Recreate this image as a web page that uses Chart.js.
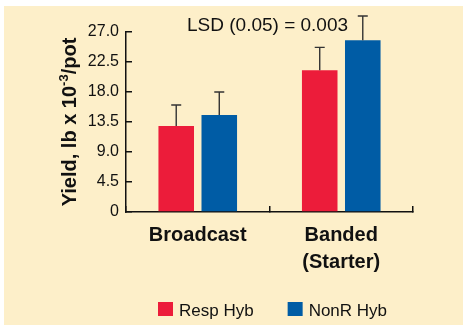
<!DOCTYPE html>
<html>
<head>
<meta charset="utf-8">
<script src="https://cdn.jsdelivr.net/npm/chart.js@4.4.1/dist/chart.umd.min.js"></script>
<style>
  html, body { margin: 0; padding: 0; background: #fff; }
  #wrap { width: 463px; height: 325px; }
</style>
</head>
<body>
<div id="wrap"><canvas id="chart" width="463" height="325"></canvas></div>
<script>
// data
const categories = ["Broadcast", ["Banded", "(Starter)"]];
const seriesNames = ["Resp Hyb", "NonR Hyb"];
const respValues = [12.9, 21.25];
const nonrValues = [14.55, 25.75];
// upper error bar lengths
const respErrors = [3.15, 3.45];
const nonrErrors = [3.45, 3.65];
const yTicks = [0, 4.5, 9, 13.5, 18, 22.5, 27];
const lsdLabel = "LSD (0.05) = 0.003";

const FONT = '"Liberation Sans", Arial, sans-serif';
const cream = '#fdefc9';
const red = '#ec1c3a';
const blue = '#005ca5';

//fills the white frame and cream panel
const bgPlugin = {
  id: 'bg',
  beforeDraw(chart) {
    const ctx = chart.ctx;
    ctx.save();
    ctx.fillStyle = '#fff';
    ctx.fillRect(0, 0, chart.width, chart.height);
    ctx.fillStyle = cream;
    ctx.fillRect(4, 6, chart.width - 4, chart.height - 6);
    ctx.restore();
  }
};

//upper error whiskers, one per bar
const errorBars = {
  id: 'errorBars',
  afterDatasetsDraw(chart) {
    const ctx = chart.ctx;
    const yScale = chart.scales.y;
    ctx.save();
    ctx.strokeStyle = '#333';
    ctx.lineWidth = 1.4;
    chart.data.datasets.forEach((ds, i) => {
      const meta = chart.getDatasetMeta(i);
      meta.data.forEach((bar, j) => {
        const top = yScale.getPixelForValue(ds.data[j] + ds.errors[j]);
        ctx.beginPath();
        ctx.moveTo(bar.x, bar.y);
        ctx.lineTo(bar.x, top);
        ctx.moveTo(bar.x - 5, top);
        ctx.lineTo(bar.x + 5, top);
        ctx.stroke();
      });
    });
    ctx.restore();
  }
};

//rotated y title with superscript, LSD note and the legend row
const texts = {
  id: 'texts',
  afterDraw(chart) {
    const ctx = chart.ctx;
    ctx.save();
    ctx.fillStyle = '#111';
    ctx.textBaseline = 'alphabetic';
    ctx.font = '19px ' + FONT;
    ctx.textAlign = 'left';
    ctx.fillText(lsdLabel, 187, 31);

    // legend, taken from the datasets
    ctx.font = '17px ' + FONT;
    let lx = 158;
    chart.data.datasets.forEach(ds => {
      ctx.fillStyle = ds.backgroundColor;
      ctx.fillRect(lx, 302, 15, 14);
      ctx.fillStyle = '#111';
      ctx.fillText(ds.label, lx + 21, 316);
      lx += 21 + ctx.measureText(ds.label).width + 34;
    });

    const a = 'Yield, lb x 10', sup = '-3', b = '/pot';
    ctx.translate(76, 122);
    ctx.rotate(-Math.PI / 2);
    ctx.font = 'bold 20px ' + FONT;
    const wa = ctx.measureText(a).width, wb = ctx.measureText(b).width;
    ctx.font = 'bold 13px ' + FONT;
    const ws = ctx.measureText(sup).width;
    let x = -(wa + ws + wb) / 2;
    ctx.font = 'bold 20px ' + FONT;
    ctx.fillText(a, x, 0);
    x += wa;
    ctx.font = 'bold 13px ' + FONT;
    ctx.fillText(sup, x, -8);
    x += ws;
    ctx.font = 'bold 20px ' + FONT;
    ctx.fillText(b, x, 0);
    ctx.restore();
  }
};

new Chart(document.getElementById('chart'), {
  type: 'bar',
  plugins: [bgPlugin, errorBars, texts],
  data: {
    labels: categories,
    datasets: [
      { label: seriesNames[0], data: respValues, errors: respErrors, backgroundColor: red, borderWidth: 0 },
      { label: seriesNames[1], data: nonrValues, errors: nonrErrors, backgroundColor: blue, borderWidth: 0 }
    ]
  },
  options: {
    responsive: false,
    animation: false,
    devicePixelRatio: 1,
    categoryPercentage: 0.6,
    barPercentage: 0.826,
    layout: { padding: { top: 32, right: 50, left: 0, bottom: 43 } },
    plugins: {
      tooltip: { enabled: false },
      legend: { display: false }
    },
    scales: {
      x: {
        grid: { display: true, drawOnChartArea: false, drawTicks: true, tickLength: -6, color: '#111', lineWidth: 1.5, offset: true },
        border: { display: true, color: '#111', width: 1.5 },
        ticks: { color: '#111', padding: 16, font: { family: FONT, size: 20, weight: 'bold', lineHeight: 1.35 } },
        afterFit(s) { s.height = 70; }
      },
      y: {
        min: 0,
        max: 27,
        afterBuildTicks(s) { s.ticks = yTicks.map(v => ({ value: v })); },
        grid: { display: true, drawOnChartArea: false, drawTicks: true, tickLength: -6, color: '#111', lineWidth: 1.5 },
        border: { display: true, color: '#111', width: 1.5 },
        ticks: {
          color: '#111',
          padding: 13,
          font: { family: FONT, size: 16 },
          callback: v => v === 0 ? '0' : v.toFixed(1)
        },
        afterFit(s) { s.width = 126; }
      }
    }
  }
});
</script>
</body>
</html>
